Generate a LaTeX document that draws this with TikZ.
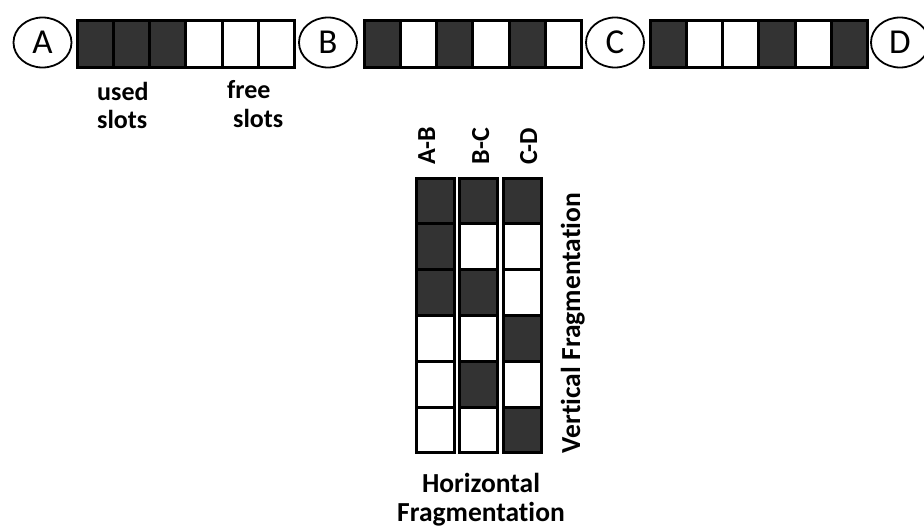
\documentclass[tikz,border=0pt]{standalone}
\usepackage{fontspec}
\setmainfont{Carlito}[Ligatures=NoCommon]
\usetikzlibrary{shapes.geometric}
\definecolor{celldark}{HTML}{333333}
\begin{document}
\begin{tikzpicture}[x=1pt,y=-1pt,
  endpoint/.style={draw=black,line width=1.8pt,ellipse,inner sep=0pt,minimum width=58pt,minimum height=50pt,font=\fontsize{35}{37}\selectfont},
  hcell/.style={draw=black,line width=3pt,inner sep=0pt,minimum width=36.33pt,minimum height=47pt},
  vcell/.style={draw=black,line width=3pt,inner sep=0pt,minimum width=38pt,minimum height=45.83pt},
  dk/.style={fill=celldark},
  wt/.style={fill=white},
  lbl/.style={font=\bfseries\fontsize{26}{28}\selectfont,inner sep=0pt,anchor=base west},
  rlbl/.style={font=\bfseries\fontsize{26}{28}\selectfont,inner sep=0pt,anchor=base,rotate=90},
  fraglbl/.style={font=\bfseries\fontsize{27.5}{30}\selectfont,inner sep=0pt,anchor=base}
]
\useasboundingbox (0,0) rectangle (924,530);
% endpoints
\node[endpoint] (A) at (42.5,42.5) {A};
\node[endpoint] (B) at (328,42.5) {B};
\node[endpoint] (C) at (615,42.5) {C};
\node[endpoint] (D) at (900,42.5) {D};
% horizontal bars
\foreach \s [count=\i] in {dk,dk,dk,wt,wt,wt}
  \node[hcell,\s] (ab\i) at ({77+36.33*(\i-0.5)},43.5) {};
\foreach \s [count=\i] in {dk,wt,dk,wt,dk,wt}
  \node[hcell,\s] (bc\i) at ({364+36.33*(\i-0.5)},43.5) {};
\foreach \s [count=\i] in {dk,wt,wt,dk,wt,dk}
  \node[hcell,\s] (cd\i) at ({650+36.33*(\i-0.5)},43.5) {};
% labels under bar
\node[lbl] (used) at (97,100) {used};
\node[lbl] (uslots) at (97,128) {slots};
\node[lbl] (free) at (227,98) {free};
\node[lbl] (fslots) at (233,127) {slots};
% vertical columns
\foreach \s [count=\i] in {dk,dk,dk,wt,wt,wt}
  \node[vcell,\s] (vab\i) at (435,{178+45.83*(\i-0.5)}) {};
\foreach \s [count=\i] in {dk,wt,dk,wt,dk,wt}
  \node[vcell,\s] (vbc\i) at (478,{178+45.83*(\i-0.5)}) {};
\foreach \s [count=\i] in {dk,wt,wt,dk,wt,dk}
  \node[vcell,\s] (vcd\i) at (522.5,{178+45.83*(\i-0.5)}) {};
% column labels
\node[rlbl] (lab) at (435,146) {A-B};
\node[rlbl] (lbc) at (489,146) {B-C};
\node[rlbl] (lcd) at (537,146) {C-D};
% fragmentation labels
\node[fraglbl,rotate=90] (vfrag) at (580,323) {Vertical Fragmentation};
\node[fraglbl] (hfrag1) at (481,492) {Horizontal};
\node[fraglbl] (hfrag2) at (481,521) {Fragmentation};
\end{tikzpicture}
\end{document}
